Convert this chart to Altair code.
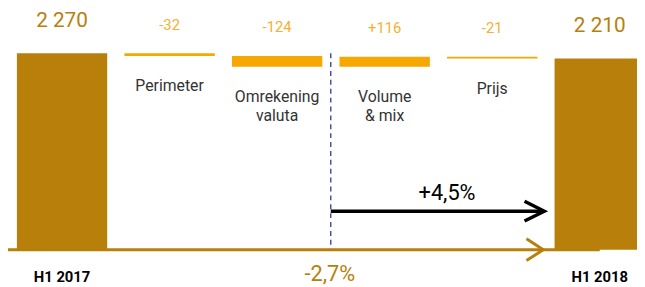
import altair as alt
import pandas as pd

# ---- data ----
categories = ["H1 2017", "Perimeter", "Omrekening\nvaluta", "Volume\n& mix", "Prijs", "H1 2018"]
amounts = [2270, -32, -124, 116, -21, 2210]
value_labels = ["2 270", "-32", "-124", "+116", "-21", "2 210"]
kinds = ["total", "delta", "delta", "delta", "delta", "total"]

organic_growth_label = "+4,5%"
total_growth_label = "-2,7%"
organic_from = "Omrekening\nvaluta"   # organic growth starts after currency effect
organic_to = "Prijs"

GOLD = "#B8800A"
ORANGE = "#F6A800"
ORANGE_TXT = "#F4B030"
NAVY = "#2B3990"
FONT = "Roboto"
GAP = 8.6  # half of the gap between bands, px

rows = []
running = 0
for cat, amt, lab, kind in zip(categories, amounts, value_labels, kinds):
    if kind == "total":
        start, end = 0, amt
        running = amt
    else:
        start, end = running, running + amt
        running = end
    rows.append(dict(cat=cat, start=start, end=end, top=max(start, end),
                     bottom=min(start, end), label=lab, kind=kind))
df = pd.DataFrame(rows)

annot = pd.DataFrame([dict(
    first=categories[0], last=categories[-1],
    split=organic_from, to=organic_to,
    top=amounts[0], zero=0,
    organic=organic_growth_label, total=total_growth_label,
)])

x_scale = alt.Scale(domain=categories, range=[9, 645], paddingInner=0.16, paddingOuter=0)
y_scale = alt.Scale(domain=[0, amounts[0]], range=[243, 44], nice=False)

base = alt.Chart(df)
X = lambda f="cat:N", **k: alt.X(f, scale=x_scale, axis=None, **k)
Y = lambda f, **k: alt.Y(f, scale=y_scale, axis=None, **k)

bars = base.mark_bar().encode(
    x=X(), y=Y("start:Q"), y2="end:Q",
    color=alt.Color("kind:N", scale=alt.Scale(domain=["total", "delta"], range=[GOLD, ORANGE]), legend=None),
)

total_vals = base.transform_filter("datum.kind == 'total'").mark_text(
    font=FONT, fontSize=21, color=GOLD, baseline="middle", dy=-33
).encode(x=X(), y=Y("top:Q"), text="label:N")

delta_vals = base.transform_filter("datum.kind == 'delta'").mark_text(
    font=FONT, fontSize=15, color=ORANGE_TXT, baseline="middle", dy=-29
).encode(x=X(), y=Y("top:Q"), text="label:N")

delta_names = base.transform_filter("datum.kind == 'delta'").mark_text(
    font=FONT, fontSize=16, color="#333333", baseline="top", dy=22.5, lineBreak="\n", lineHeight=20
).encode(x=X(), y=Y("bottom:Q"), text="cat:N")

total_names = base.transform_filter("datum.kind == 'total'").mark_text(
    font=FONT, fontSize=15, color="#000000", baseline="middle", dy=27.5, fontWeight="bold"
).encode(x=X(), y=Y("start:Q"), text="cat:N")

ab = alt.Chart(annot)

baseline = ab.mark_rule(color=GOLD, strokeWidth=3, xOffset=-9).encode(
    x=X("first:N", bandPosition=0), x2=alt.X2("last:N", bandPosition=0.5), y=Y("zero:Q"),
)
base_head = ab.mark_point(
    shape="M -1.7 -1.1 L 0 0 L -1.7 1.1", size=400, filled=False, color=GOLD,
    strokeWidth=3, opacity=1, xOffset=6,
).encode(x=X("to:N", bandPosition=1), y=Y("zero:Q"))

divider = ab.mark_rule(color=NAVY, strokeWidth=1.3, strokeDash=[5, 4], xOffset=GAP).encode(
    x=X("split:N", bandPosition=1), y=Y("top:Q"), y2="zero:Q",
)

org_arrow = ab.mark_rule(color="#000000", strokeWidth=3.5, xOffset=GAP, x2Offset=6).encode(
    x=X("split:N", bandPosition=1), x2=alt.X2("to:N", bandPosition=1), y=alt.value(204),
)
org_head = ab.mark_point(
    shape="M -2 -1 L 0 0 L -2 1", size=400, filled=False, color="#000000",
    strokeWidth=3.5, opacity=1, xOffset=7,
).encode(x=X("to:N", bandPosition=1), y=alt.value(204))

org_text = ab.mark_text(font=FONT, fontSize=22, color="#000000", baseline="middle").encode(
    x=X("to:N", bandPosition=0), y=alt.value(185.5), text="organic:N",
)
tot_text = ab.mark_text(font=FONT, fontSize=22, color=GOLD, baseline="middle", dy=24.5, dx=GAP - 1).encode(
    x=X("split:N", bandPosition=1), y=Y("zero:Q"), text="total:N",
)

chart = alt.layer(
    bars, divider, baseline, base_head, org_arrow, org_head,
    total_vals, delta_vals, delta_names, total_names, org_text, tot_text,
).properties(
    width=637, height=279, autosize=alt.AutoSizeParams(type="none"), padding=0,
).configure_view(stroke=None)

chart.save("out.html", embed_options={"renderer": "svg", "actions": False})
